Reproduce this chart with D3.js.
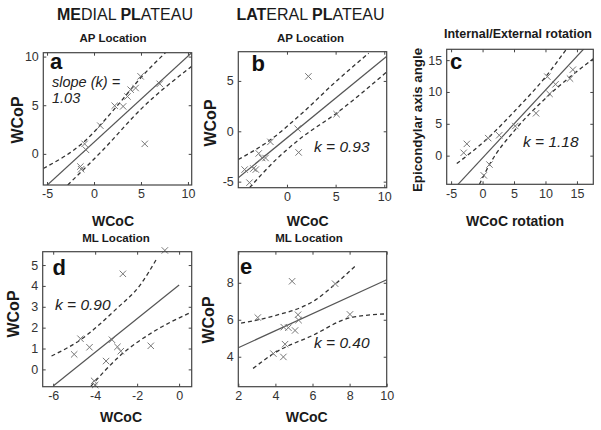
<!DOCTYPE html>
<html><head><meta charset="utf-8">
<script src="https://cdn.jsdelivr.net/npm/d3@7"></script>
<style>body{margin:0;background:#fff}svg{display:block}text{font-family:"Liberation Sans",Arial,sans-serif}</style>
</head><body><svg id="chart" width="601" height="430"></svg>
<script>
// ---------- data ----------
const aPoints = [[4.96,7.97],[4.43,6.77],[3.9,6.6],[3.56,5.9],[7.0,7.2],[2.2,4.95],[3.1,4.88],[0.67,2.9],[-1.0,1.03],[-0.85,0.41],[5.4,1.03],[-1.45,-1.3],[-1.37,-1.58]];
const aFit = [[-5.4,-3.58],[10.4,10.4]];
const aUpper = [[-5.4,-1.5],[-1,1.3],[2.3,4.75],[5,7.85],[7.6,10.4]];
const aLower = [[-2.8,-3.2],[1,0.45],[5,4.6],[10.4,9.0]];

const bPoints = [[2.2,5.45],[5.1,1.7],[1.1,0.25],[-1.7,-1.05],[1.2,-2.1],[-2.9,-2.2],[-2.55,-2.65],[-2.2,-2.65],[-4.35,-3.8],[-3.45,-3.7],[-3.2,-3.8],[-3.85,-5.1]];
const bFit = [[-5,-4.61],[10.2,7.4]];
const bUpper = [[-5,-2.8],[-1.7,-0.85],[1.5,1.75],[5.1,5.0],[8.4,7.75]];
const bLower = [[-3.85,-5.6],[-1,-2.7],[1.2,-0.85],[5.1,1.8],[10.2,5.85]];

const cPoints = [[-3.0,0.45],[-2.5,1.85],[0.9,2.75],[2.65,3.2],[5.2,4.65],[8.5,6.65],[1.1,-1.4],[0.2,-3.1],[10.3,12.4],[10.65,9.7],[11.6,11.2],[13.9,12.1],[14.35,13.5]];
const cFit = [[-3.9,-4.5],[16.1,16.78]];
const cUpper = [[-4.1,-1.25],[0.9,2.8],[5,6.9],[10.2,12.6],[13.3,16.7]];
const cLower = [[-0.5,-4.5],[1.1,-1.4],[5.3,4.2],[10,9.0],[17.6,15.2]];

const dPoints = [[-0.68,5.7],[-2.68,4.58],[-4.7,1.47],[-4.27,1.06],[-5.0,0.72],[-3.2,1.42],[-2.94,1.08],[-2.78,0.87],[-1.35,1.13],[-3.48,0.4],[-4.05,-0.55],[-4.0,-0.75]];
const dFit = [[-6,-0.8],[0,4.04]];
const dUpper = [[-6.08,0.64],[-4.73,1.4],[-2.97,2.92],[-1.86,4.04],[-1.04,5.35]];
const dLower = [[-4.2,-0.8],[-2.82,0.65],[-1.23,1.8],[0.6,2.75]];

const ePoints = [[4.9,8.08],[7.22,7.95],[3.05,6.12],[5.22,6.27],[5.25,5.98],[4.45,5.6],[4.7,5.57],[5.06,5.42],[8.02,6.29],[4.52,4.68],[3.89,4.17],[4.43,3.99]];
const eFit = [[2,4.49],[10,8.16]];
const eUpper = [[2.15,5.82],[3.9,6.2],[6.2,7.1],[7.2,7.9],[8.3,8.9]];
const eLower = [[2.8,3.37],[3.9,4.17],[6,5.15],[8,6.1],[10,6.32]];

const aXTicks = [-5,0,5,10], aYTicks = [0,5,10];
const bXTicks = [0,5,10], bYTicks = [-5,0,5];
const cXTicks = [-5,0,5,10,15], cYTicks = [0,5,10,15];
const dXTicks = [-6,-4,-2,0], dYTicks = [0,1,2,3,4,5];
const eXTicks = [2,4,6,8,10], eYTicks = [4,6,8];

const letters = ["a","b","c","d","e"];
const kTexts = [["slope (k) =","1.03"],["k = 0.93"],["k = 1.18"],["k = 0.90"],["k = 0.40"]];
const subTitles = ["AP Location","AP Location","Internal/External rotation","ML Location","ML Location"];
const xLabels = ["WCoC","WCoC","WCoC rotation","WCoC","WCoC"];
const yLabels = ["WCoP","WCoP","Epicondylar axis angle","WCoP","WCoP"];

// ---------- layout ----------
const panels = [
  {pts:aPoints, fit:aFit, up:aUpper, lo:aLower, xd:[-5.4,10.4], yd:[-3.2,10.4], xt:aXTicks, yt:aYTicks,
   box:[43.3,191.7,52.7,185], letter:[50,69], k:[52,87,14.5], sub:[113,42,11.5], xl:[113,226,14], yl:[17,120,16]},
  {pts:bPoints, fit:bFit, up:bUpper, lo:bLower, xd:[-5,10.25], yd:[-5.6,7.9], xt:bXTicks, yt:bYTicks,
   box:[238.3,386.7,51.7,187.7], letter:[251.5,71], k:[314,151.7,15.5], sub:[310.5,42,11.5], xl:[307.7,226,14], yl:[210,123,16]},
  {pts:cPoints, fit:cFit, up:cUpper, lo:cLower, xd:[-5.7,17.6], yd:[-4.5,16.7], xt:cXTicks, yt:cYTicks,
   box:[446.7,593.3,49.3,184.3], letter:[450,69.3], k:[523,146.7,15.5], sub:[518,37.7,12.5], xl:[515,226,14], yl:[417.5,120,13.3]},
  {pts:dPoints, fit:dFit, up:dUpper, lo:dLower, xd:[-6.5,0.6], yd:[-0.83,5.64], xt:dXTicks, yt:dYTicks,
   box:[42.7,191.7,251.7,386.7], letter:[52.5,275], k:[55,310,15.5], sub:[116,242,11.5], xl:[121,422,14], yl:[13,314,16]},
  {pts:ePoints, fit:eFit, up:eUpper, lo:eLower, xd:[2,10], yd:[2.38,9.68], xt:eXTicks, yt:eYTicks,
   box:[238.3,386.7,251.7,386.7], letter:[240,274], k:[314,347.7,15.5], sub:[309,242,11.5], xl:[306.7,422,14], yl:[208,320,16]}
];

const svg = d3.select("#chart");
const fmt = d => String(d);
const ink = "#1a1a1a";

panels.forEach((p, i) => {
  const [x0,x1,y0,y1] = p.box;
  const x = d3.scaleLinear().domain(p.xd).range([x0,x1]);
  const y = d3.scaleLinear().domain(p.yd).range([y1,y0]);
  const g = svg.append("g");
  const clipId = "clip" + i;
  svg.append("clipPath").attr("id", clipId).append("rect")
    .attr("x", x0).attr("y", y0).attr("width", x1-x0).attr("height", y1-y0);

  const styleAxis = sel => {
    sel.select(".domain").remove();
    sel.selectAll(".tick line").attr("stroke", "#444").attr("stroke-width", 1);
    sel.selectAll(".tick text").attr("fill", "#333").style("font-size", "12.5px")
      .style("font-family", '"Liberation Sans",Arial,sans-serif');
  };
  g.append("g").attr("transform", `translate(0,${y1})`)
    .call(d3.axisBottom(x).tickValues(p.xt).tickSize(-3).tickPadding(4.5).tickFormat(fmt)).call(styleAxis);
  g.append("g").attr("transform", `translate(0,${y0})`)
    .call(d3.axisTop(x).tickValues(p.xt).tickSize(-3).tickFormat("")).call(styleAxis);
  g.append("g").attr("transform", `translate(${x0},0)`)
    .call(d3.axisLeft(y).tickValues(p.yt).tickSize(-3).tickPadding(4.5).tickFormat(fmt)).call(styleAxis);
  g.append("g").attr("transform", `translate(${x1},0)`)
    .call(d3.axisRight(y).tickValues(p.yt).tickSize(-3).tickFormat("")).call(styleAxis);

  const plot = g.append("g").attr("clip-path", `url(#${clipId})`);
  const line = d3.line().x(d => x(d[0])).y(d => y(d[1])).curve(d3.curveMonotoneX);
  plot.append("path").attr("d", line(p.fit)).attr("fill","none").attr("stroke","#555").attr("stroke-width",1.2);
  [p.up, p.lo].forEach(arr => {
    plot.append("path").attr("d", line(arr)).attr("fill","none").attr("stroke","#333")
      .attr("stroke-width",1.3).attr("stroke-dasharray","4,3");
  });
  const s = 3.2;
  p.pts.forEach(d => {
    const cx = x(d[0]), cy = y(d[1]);
    g.append("path").attr("d", `M${cx-s},${cy-s}L${cx+s},${cy+s}M${cx-s},${cy+s}L${cx+s},${cy-s}`)
      .attr("stroke","#777").attr("stroke-width",1).attr("fill","none");
  });

  g.append("rect").attr("x",x0).attr("y",y0).attr("width",x1-x0).attr("height",y1-y0)
    .attr("fill","none").attr("stroke","#444").attr("stroke-width",1.2);

  g.append("text").attr("x",p.letter[0]).attr("y",p.letter[1]).text(letters[i])
    .style("font-size","22px").style("font-weight","bold").attr("fill","#111");
  const kt = g.append("text").attr("x",p.k[0]).attr("y",p.k[1])
    .style("font-size",p.k[2]+"px").style("font-style","italic").attr("fill","#222");
  kTexts[i].forEach((t, j) => {
    kt.append("tspan").attr("x",p.k[0]).attr("dy", j === 0 ? 0 : 16.4).text(t);
  });
  g.append("text").attr("x",p.sub[0]).attr("y",p.sub[1]).attr("text-anchor","middle").text(subTitles[i])
    .style("font-size",p.sub[2]+"px").style("font-weight","bold").attr("fill",ink);
  g.append("text").attr("x",p.xl[0]).attr("y",p.xl[1]).attr("text-anchor","middle").text(xLabels[i])
    .style("font-size",p.xl[2]+"px").style("font-weight","bold").attr("fill",ink);
  const bx = p.yl[0] + 0.36*p.yl[2];
  g.append("text").attr("transform",`translate(${bx},${p.yl[1]}) rotate(-90)`).attr("text-anchor","middle")
    .text(yLabels[i]).style("font-size",p.yl[2]+"px").style("font-weight","bold").attr("fill",ink);
});

const headings = [
  {x:125, parts:[["ME",true],["DIAL ",false],["PL",true],["ATEAU",false]]},
  {x:310.5, parts:[["LAT",true],["ERAL ",false],["PL",true],["ATEAU",false]]}
];
headings.forEach(h => {
  const t = svg.append("text").attr("x",h.x).attr("y",20).attr("text-anchor","middle")
    .style("font-size","16px").attr("fill",ink);
  h.parts.forEach(([s,b]) => t.append("tspan").text(s).style("font-weight", b ? "bold" : "normal"));
});
</script></body></html>
